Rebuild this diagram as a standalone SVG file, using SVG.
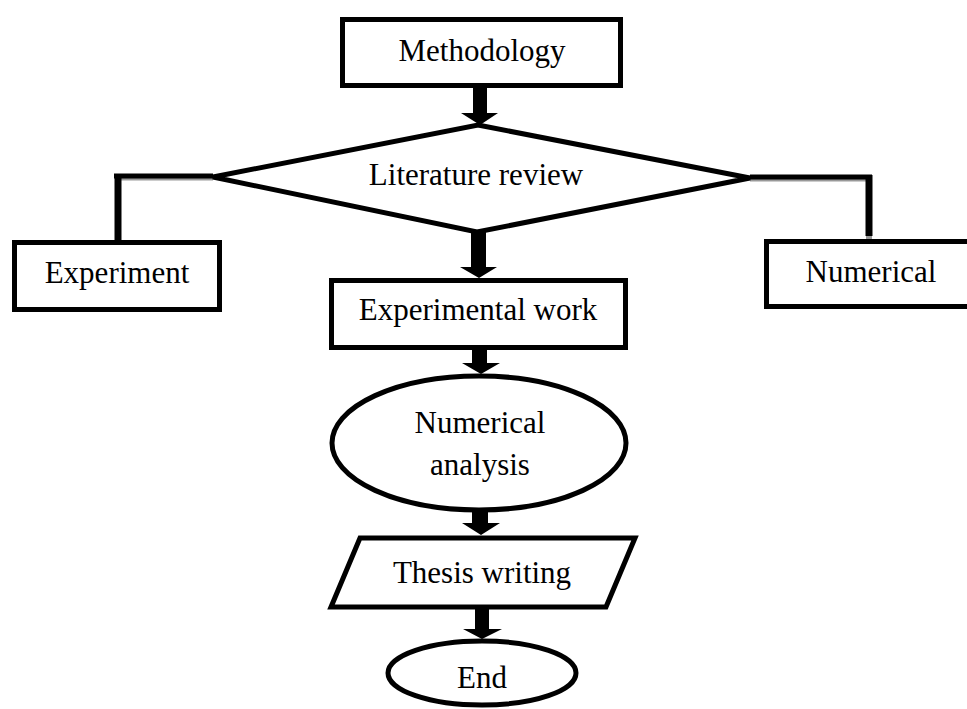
<svg xmlns="http://www.w3.org/2000/svg" width="967" height="709" viewBox="0 0 967 709">
<style>
.s{fill:#fff;stroke:#000;stroke-width:5}
.t{font-family:"Liberation Serif","Times New Roman",serif;font-size:31px;fill:#000;text-anchor:middle}
.a{fill:#000}
.c{fill:none;stroke:#000;stroke-linejoin:miter}
.g{fill:none;stroke:#999}
</style>
<rect width="967" height="709" fill="#fff"/>
<g id="connectors">
<line class="g" x1="118" y1="179" x2="213" y2="179" stroke-width="3"/>
<line class="g" x1="750" y1="180" x2="868" y2="180" stroke-width="3"/>
<line class="c" x1="114" y1="176" x2="213" y2="176" stroke-width="5"/>
<line class="c" x1="118" y1="174" x2="118" y2="241" stroke-width="7"/>
<line class="c" x1="750" y1="177" x2="872" y2="177" stroke-width="5"/>
<line class="c" x1="869" y1="175" x2="869" y2="236" stroke-width="7"/>
<line class="g" x1="869" y1="236" x2="869" y2="240" stroke-width="6"/>
<polygon class="a" points="473,88 487,88 487,113 498,113 480,125 461,113 473,113"/>
<polygon class="a" points="471,232 486,232 486,267 497,267 479,278 460,267 471,267"/>
<polygon class="a" points="472,350 487,350 487,363 500,363 481,374 462,363 472,363"/>
<polygon class="a" points="472,512 488,512 488,523 500,523 481,535 462,523 472,523"/>
<polygon class="a" points="475,609 489,609 489,629 502,629 482,639 463,629 475,629"/>
</g>
<g id="methodology">
<rect class="s" x="342.5" y="19.5" width="278" height="66"/>
<text class="t" x="482" y="61">Methodology</text>
</g>
<g id="literature">
<polygon class="s" points="478,125 750,178 477,232 213,177"/>
<text class="t" x="476" y="185">Literature review</text>
</g>
<g id="experiment">
<rect class="s" x="14.5" y="242.5" width="205" height="67"/>
<text class="t" x="117" y="283">Experiment</text>
</g>
<g id="numerical">
<rect class="s" x="766.5" y="241.5" width="220" height="65"/>
<text class="t" x="871" y="282">Numerical</text>
</g>
<g id="experimental-work">
<rect class="s" x="331.5" y="280.5" width="294" height="67"/>
<text class="t" x="478" y="320">Experimental work</text>
</g>
<g id="numerical-analysis">
<ellipse class="s" cx="479" cy="443" rx="147" ry="67"/>
<text class="t" x="480" y="433">Numerical</text>
<text class="t" x="480" y="475">analysis</text>
</g>
<g id="thesis">
<polygon class="s" points="360,538 635,538 606,607 331,607"/>
<text class="t" x="482" y="583">Thesis writing</text>
</g>
<g id="end">
<ellipse class="s" cx="482" cy="673" rx="94" ry="32"/>
<text class="t" x="482" y="688">End</text>
</g>
</svg>
